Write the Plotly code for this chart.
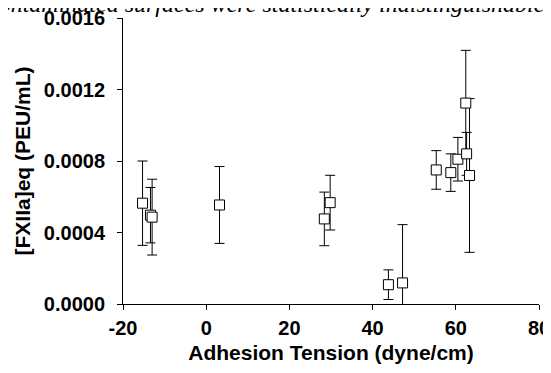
import plotly.graph_objects as go

# Data
adhesion_tension = [-15.3, -13.4, -13.0, 3.2, 28.4, 29.8, 43.8, 47.2, 55.3, 58.8, 60.5, 62.6, 62.4, 63.3]
fxiia_eq = [0.000564, 0.000497, 0.000486, 0.000554, 0.000476, 0.000567, 0.000108, 0.000118,
            0.000750, 0.000735, 0.000810, 0.000840, 0.001124, 0.000719]
fxiia_err = [0.000236, 0.000155, 0.000212, 0.000215, 0.000150, 0.000153, 0.000083, 0.000326,
             0.000108, 0.000105, 0.000122, 0.000120, 0.000295, 0.000430]

x_ticks = [-20, 0, 20, 40, 60, 80]
y_ticks = [0.0, 0.0004, 0.0008, 0.0012, 0.0016]

FONT = "Arial, Liberation Sans, sans-serif"

fig = go.Figure()
fig.add_trace(go.Scatter(
    x=adhesion_tension,
    y=fxiia_eq,
    mode="markers",
    marker=dict(symbol="square", size=10, color="white",
                line=dict(color="black", width=1)),
    error_y=dict(type="data", array=fxiia_err, symmetric=True,
                 color="black", thickness=1, width=5),
    showlegend=False,
))

# The page body has an 8px margin, so the figure is sized/margined to compensate
fig.update_layout(
    width=543, height=365,
    margin=dict(l=115, r=12, t=10, b=69, autoexpand=False),
    paper_bgcolor="white", plot_bgcolor="white",
    font=dict(family=FONT, color="black"),
    xaxis=dict(
        range=[-20, 80], tickvals=x_ticks, ticktext=[str(v) for v in x_ticks],
        showgrid=False, zeroline=False, showline=True, linecolor="black", linewidth=1,
        ticks="outside", ticklen=5, tickcolor="black", tickwidth=1,
        ticklabelstandoff=1, automargin=False, ticklabeloverflow="allow",
        tickfont=dict(family=FONT, size=20, weight="bold"),
        title=dict(text="Adhesion Tension (dyne/cm)", standoff=7,
                   font=dict(family=FONT, size=21, weight="bold")),
    ),
    yaxis=dict(
        range=[0, 0.0016], tickvals=y_ticks, ticktext=[f"{v:.4f}" for v in y_ticks],
        showgrid=False, zeroline=False, showline=True, linecolor="black", linewidth=1,
        ticks="outside", ticklen=5, tickcolor="black", tickwidth=1,
        ticklabelstandoff=8, automargin=False, ticklabeloverflow="allow",
        tickfont=dict(family=FONT, size=20, weight="bold"),
        title=dict(text="[FXIIa]eq (PEU/mL)", standoff=7,
                   font=dict(family=FONT, size=21, weight="bold")),
    ),
    annotations=[dict(
        text="contaminated surfaces were statistically indistinguishable",
        xref="paper", yref="paper", x=-0.33, y=1, xanchor="left", yanchor="bottom",
        yshift=-1, showarrow=False,
        font=dict(family="Liberation Serif, Times New Roman, serif", size=24,
                  style="italic", color="black"),
    )],
)

fig.write_html("out.html")
